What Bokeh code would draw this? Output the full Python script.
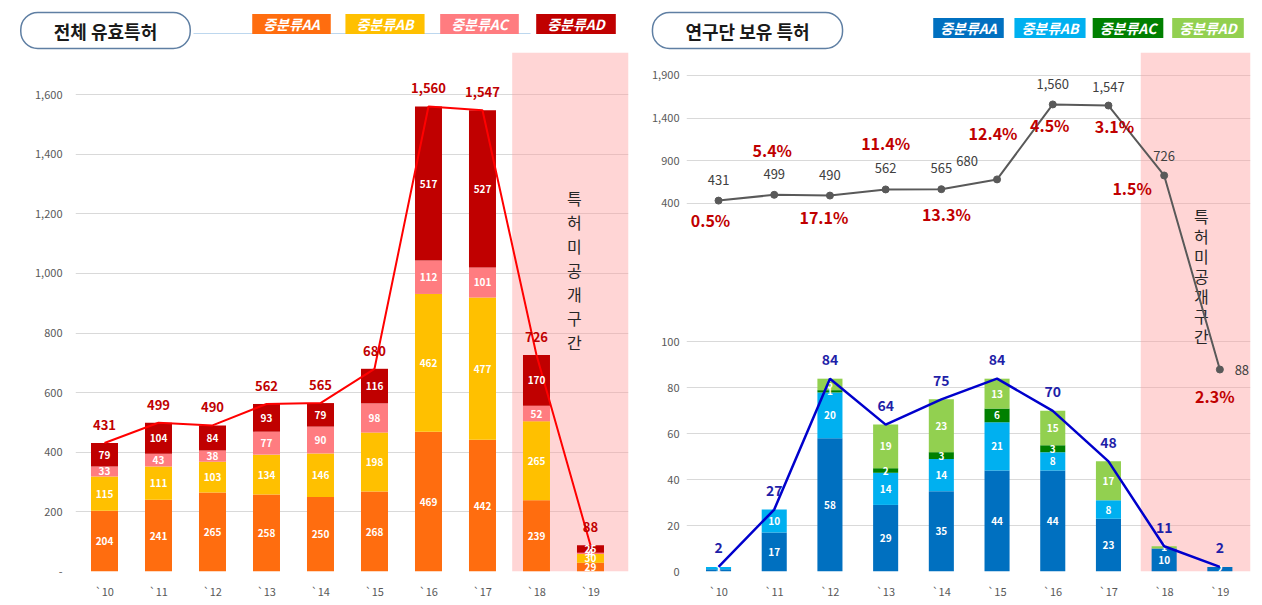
import numpy as np
from bokeh.plotting import figure
from bokeh.layouts import row, column
from bokeh.models import Range1d, FixedTicker, Label, BoxAnnotation, ColumnDataSource
from bokeh.core.properties import value
from bokeh.embed import file_html
from bokeh.resources import INLINE

# ---------------- data ----------------
years = ["`10", "`11", "`12", "`13", "`14", "`15", "`16", "`17", "`18", "`19"]
series_names = ["중분류AA", "중분류AB", "중분류AC", "중분류AD"]

all_aa = [204, 241, 265, 258, 250, 268, 469, 442, 239, 29]
all_ab = [115, 111, 103, 134, 146, 198, 462, 477, 265, 30]
all_ac = [33, 43, 38, 77, 90, 98, 112, 101, 52, 4]
all_ad = [79, 104, 84, 93, 79, 116, 517, 527, 170, 25]
all_total = [431, 499, 490, 562, 565, 680, 1560, 1547, 726, 88]

rnd_aa = [1, 17, 58, 29, 35, 44, 44, 23, 10, 2]
rnd_ab = [1, 10, 20, 14, 14, 21, 8, 8, 0, 0]
rnd_ac = [0, 0, 1, 2, 3, 6, 3, 0, 0, 0]
rnd_ad = [0, 0, 5, 19, 23, 13, 15, 17, 1, 0]
rnd_total = [2, 27, 84, 64, 75, 84, 70, 48, 11, 2]
share_labels = ["0.5%", "5.4%", "17.1%", "11.4%", "13.3%", "12.4%", "4.5%", "3.1%", "1.5%", "2.3%"]

left_ticks = [0, 200, 400, 600, 800, 1000, 1200, 1400, 1600]
right_bar_ticks = [0, 20, 40, 60, 80, 100]
right_line_ticks = [400, 900, 1400, 1900]

# ---------------- style ----------------
FONT = "Noto Sans CJK KR"
HEAD_H = 52
H = 605 - HEAD_H
W1, W2 = 631, 631
left_colors = ["#FF6D0F", "#FFC000", "#FF7C80", "#C00000"]
right_colors = ["#0070C0", "#00B0F0", "#008000", "#92D050"]
GRID = "#D9D9D9"
AXC = "#595959"
PINK = "#FF9A9A"
vtext = "\n".join(list("특허미공개구간"))

x = np.arange(len(years))


def seg_source(series, xs):
    xx, yy, tt = [], [], []
    for i in range(len(xs)):
        base = 0
        for s in series:
            v = s[i]
            if v > 0:
                xx.append(xs[i]); yy.append(base + v / 2); tt.append(str(v))
            base += v
    return ColumnDataSource(dict(x=xx, y=yy, t=tt))


def style_axes(p, ticks, overrides, standoff):
    p.xaxis.ticker = FixedTicker(ticks=list(range(len(years))))
    p.xaxis.major_label_overrides = {i: years[i] for i in range(len(years))}
    p.yaxis.ticker = FixedTicker(ticks=ticks)
    p.yaxis.major_label_overrides = overrides
    for ax in (p.xaxis[0], p.yaxis[0]):
        ax.axis_line_color = None
        ax.major_tick_line_color = None
        ax.minor_tick_line_color = None
        ax.major_tick_out = 0
        ax.major_tick_in = 0
        ax.minor_tick_out = 0
        ax.minor_tick_in = 0
        ax.major_label_text_color = AXC
        ax.major_label_text_font = FONT
        ax.major_label_text_font_size = "11px"
    p.xaxis.major_label_standoff = 11
    p.yaxis.major_label_standoff = standoff
    p.xgrid.grid_line_color = None
    p.ygrid.grid_line_color = GRID
    p.outline_line_color = None


def header(x0, width):
    h = figure(width=width, height=HEAD_H, x_range=Range1d(x0, x0 + width), y_range=Range1d(HEAD_H, 0),
               output_backend="svg", toolbar_location=None, min_border=0,
               x_axis_type=None, y_axis_type=None)
    h.outline_line_color = None
    h.xgrid.visible = False
    h.ygrid.visible = False
    return h


def add_title(h, cx, cy, text, padx):
    h.add_layout(Label(x=cx + 3, y=cy + 3, text=text,
                       text_font=FONT, text_font_size="18px", text_font_style="bold",
                       text_alpha=0, text_align="center", text_baseline="middle",
                       background_fill_color="#8C96A6", background_fill_alpha=0.7,
                       padding=(padx, 5), border_radius=17))
    h.add_layout(Label(x=cx, y=cy, text=text,
                       text_font=FONT, text_font_size="18px", text_font_style="bold",
                       text_color="#1A1A1A", text_align="center", text_baseline="middle",
                       background_fill_color="white", border_line_color="#5F7FA3",
                       border_line_width=1.5, padding=(padx, 5), border_radius=17))


def add_legend(h, centers, cy, colors, padx):
    for name, c, col in zip(series_names, centers, colors):
        h.add_layout(Label(x=c, y=cy, text=name,
                           text_font=FONT, text_font_size="14px", text_font_style="bold italic",
                           text_color="white", text_align="center", text_baseline="middle",
                           background_fill_color=col, padding=(padx, 0)))


# ---------------- headers ----------------
h1 = header(0, W1)
h1.segment(x0=[193], y0=[33], x1=[530], y1=[33], line_color="#BDD7EE", line_width=1)
add_legend(h1, [291, 384.5, 479, 575.5], 23.5, left_colors, 11)
add_title(h1, 105, 30, "전체 유효특허", 33)

h2 = header(W1, W2)
add_legend(h2, [968, 1049.5, 1127.5, 1207.5], 27.5, right_colors, 7)
add_title(h2, 747, 30, "연구단 보유 특허", 33)

# ---------------- left chart ----------------
p1 = figure(width=W1, height=H, x_range=Range1d(-0.537, 9.704), y_range=Range1d(0, 1741),
            output_backend="svg", toolbar_location=None,
            min_border_left=75, min_border_right=3, min_border_top=0, min_border_bottom=34)
style_axes(p1, left_ticks, {t: ("-" if t == 0 else f"{t:,}") for t in left_ticks}, 13)
p1.add_layout(BoxAnnotation(left=7.55, fill_color=PINK, fill_alpha=0.42, line_color=None, level="underlay"))

src1 = ColumnDataSource(dict(x=x, AA=all_aa, AB=all_ab, AC=all_ac, AD=all_ad, total=all_total,
                             tl=[f"{v:,}" for v in all_total]))
p1.vbar_stack(["AA", "AB", "AC", "AD"], x="x", width=0.5, color=left_colors, source=src1, line_color=None)
p1.line("x", "total", source=src1, color="#FF0000", line_width=2)
p1.text("x", "y", text="t", source=seg_source([all_aa, all_ab, all_ac, all_ad], x),
        text_color="white", text_font=value(FONT), text_font_size="10px", text_font_style="bold",
        text_align="center", text_baseline="middle")
p1.text("x", "total", text="tl", source=src1, y_offset=-18, text_color="#C00000",
        text_font=value(FONT), text_font_size="13px", text_font_style="bold",
        text_align="center", text_baseline="middle")
p1.text(x=[8.70], y=[1010], text=[vtext], text_color="#262626", text_font=value(FONT),
        text_font_size="16px", text_line_height=1.0, text_align="center", text_baseline="middle")

# ---------------- right chart ----------------
def bu(v):
    # broken vertical scale: 0-100 shared with bars, 400-1900 for the totals line
    return np.interp(v, [0, 100, 400, 1900], [0, 100, 160.43, 216.09])


r_ticks = right_bar_ticks + [round(float(bu(t)), 3) for t in right_line_ticks]
r_over = {t: str(t) for t in right_bar_ticks}
r_over.update({round(float(bu(t)), 3): f"{t:,}" for t in right_line_ticks})

p2 = figure(width=W2, height=H, x_range=Range1d(-0.575, 9.55), y_range=Range1d(0, 226.1),
            output_backend="svg", toolbar_location=None,
            min_border_left=55, min_border_right=12, min_border_top=0, min_border_bottom=33)
style_axes(p2, r_ticks, r_over, 7)
p2.add_layout(BoxAnnotation(left=7.58, fill_color=PINK, fill_alpha=0.42, line_color=None, level="underlay"))

src2 = ColumnDataSource(dict(x=x, AA=rnd_aa, AB=rnd_ab, AC=rnd_ac, AD=rnd_ad, total=rnd_total,
                             tl=[str(v) for v in rnd_total]))
p2.vbar_stack(["AA", "AB", "AC", "AD"], x="x", width=0.45, color=right_colors, source=src2, line_color=None)
p2.text("x", "y", text="t", source=seg_source([rnd_aa, rnd_ab, rnd_ac, rnd_ad], x),
        text_color="white", text_font=value(FONT), text_font_size="10px", text_font_style="bold",
        text_align="center", text_baseline="middle")

p2.text(x=[8.67], y=[128.7], text=[vtext], text_color="#262626", text_font=value(FONT),
        text_font_size="16px", text_line_height=0.83, text_align="center", text_baseline="middle")

p2.line("x", "total", source=src2, color="#0000CC", line_width=2.5)
p2.text("x", "total", text="tl", source=src2, y_offset=-19, text_color="#1F1FA8",
        text_font=value(FONT), text_font_size="14px", text_font_style="bold",
        text_align="center", text_baseline="middle")

top_dx = [0, 0, 0, 0, 0, -30, 0, 0, 0, 22]
top_dy = [-21, -21, -21, -21, -21, -18, -20, -19, -19, 0]
pct_dx = [-8, -2, -6, 0, 5, -4, -3, 6, -32, -5]
pct_dy = [19, -45, 21, -46, 25, -46, 21, 20, 13, 26]
src3 = ColumnDataSource(dict(x=x, y=bu(np.array(all_total, dtype=float)),
                             tl=[f"{v:,}" for v in all_total], pl=share_labels,
                             dx=top_dx, dy=top_dy, pdx=pct_dx, pdy=pct_dy))
p2.line("x", "y", source=src3, color="#595959", line_width=2)
p2.scatter("x", "y", source=src3, size=7, color="#595959")
p2.text("x", "y", text="tl", source=src3, x_offset="dx", y_offset="dy", text_color="#404040",
        text_font=value(FONT), text_font_size="13px", text_align="center", text_baseline="middle")
p2.text("x", "y", text="pl", source=src3, x_offset="pdx", y_offset="pdy", text_color="#C00000",
        text_font=value(FONT), text_font_size="16px", text_font_style="bold",
        text_align="center", text_baseline="middle")

layout = column(row(h1, h2), row(p1, p2))
open("out.html", "w").write(file_html(layout, INLINE))
